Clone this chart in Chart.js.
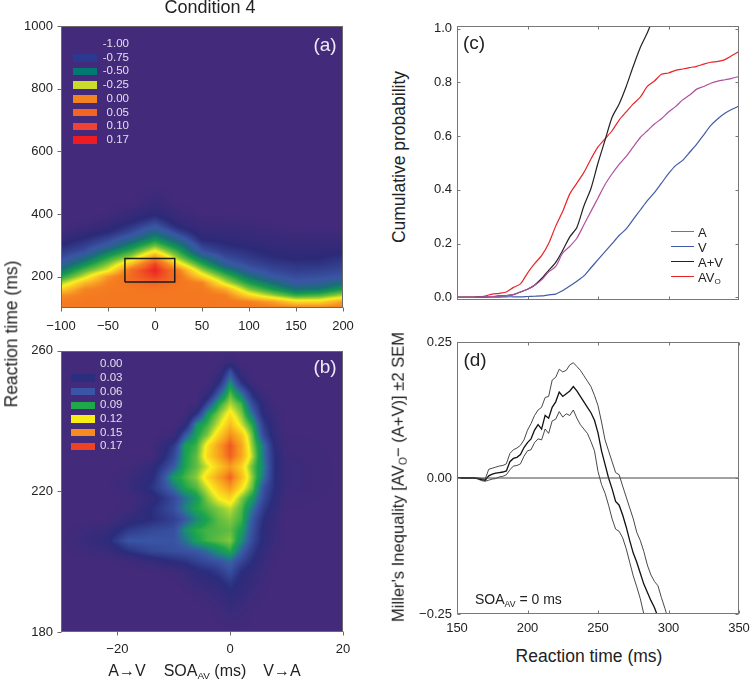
<!DOCTYPE html>
<html>
<head>
<meta charset="utf-8">
<title>Condition 4</title>
<script src="https://cdn.jsdelivr.net/npm/chart.js@4/dist/chart.umd.min.js"></script>
<style>
  html, body { margin: 0; padding: 0; background: #fff; overflow: hidden; }
  #page { position: relative; width: 751px; height: 682px; overflow: hidden; font-family: "Liberation Sans", sans-serif; color: #222; }
  canvas { position: absolute; }
  .t { position: absolute; white-space: nowrap; line-height: 1; }
  .t sub { font-size: 62%; vertical-align: -0.3em; line-height: 0; }
  .sw { position: absolute; }
</style>
</head>
<body>
<div id="page">
  <canvas id="chartA" width="385" height="328" style="left:0;top:10px"></canvas>
  <canvas id="chartB" width="385" height="330" style="left:0;top:335px"></canvas>
  <canvas id="chartC" width="370" height="305" style="left:410px;top:10px"></canvas>
  <canvas id="chartD" width="370" height="315" style="left:410px;top:325px"></canvas>
</div>
<script>
// panel (a): race model violation over SOA and RT
let soa_a = [-100, -75, -50, -25, 0, 25, 50, 75, 100, 125, 150, 175, 200];
let rt_a = [100, 120, 140, 160, 180, 200, 220, 240, 260, 280, 300, 320, 340, 360, 380, 400, 440, 500, 1000];
let grid_a = [
  [0, 0, 0, 0, 0, 0, 0, 0, 0, -.01, -.02, -.02, -.01],
  [-.02, 0, 0, 0, 0, 0, 0, -.005, -.03, -.09, -.2, -.2, -.09],
  [-.06, -.02, 0, 0, 0, 0, 0, -.02, -.2, -.33, -.45, -.42, -.32],
  [-.19, -.04, -.01, 0, .01, 0, -.01, -.11, -.36, -.5, -.62, -.6, -.5],
  [-.33, -.14, -.03, .02, .05, .01, -.03, -.29, -.49, -.62, -.74, -.71, -.63],
  [-.48, -.29, -.07, .04, .12, .02, -.19, -.41, -.61, -.74, -.78, -.77, -.75],
  [-.6, -.41, -.26, .03, .17, -.02, -.33, -.55, -.73, -.79, -.82, -.81, -.79],
  [-.72, -.54, -.36, -.14, .12, -.2, -.47, -.71, -.79, -.83, -.85, -.85, -.82],
  [-.79, -.66, -.47, -.31, -.04, -.35, -.61, -.78, -.83, -.87, -.89, -.88, -.85],
  [-.83, -.77, -.59, -.44, -.23, -.46, -.76, -.83, -.86, -.9, -.91, -.91, -.89],
  [-.88, -.82, -.73, -.56, -.39, -.58, -.82, -.87, -.9, -.92, -.93, -.93, -.92],
  [-.93, -.87, -.8, -.68, -.53, -.69, -.89, -.91, -.92, -.94, -.95, -.95, -.95],
  [-.97, -.92, -.87, -.78, -.64, -.8, -.92, -.93, -.94, -.96, -.97, -.97, -.97],
  [-1, -.96, -.92, -.84, -.74, -.89, -.95, -.95, -.96, -.98, -1, -1, -1],
  [-1, -1, -.95, -.9, -.82, -.93, -.97, -.97, -.98, -1, -1, -1, -1],
  [-1, -1, -.99, -.94, -.89, -.96, -1, -1, -1, -1, -1, -1, -1],
  [-1, -1, -1, -1, -.95, -1, -1, -1, -1, -1, -1, -1, -1],
  [-1, -1, -1, -1, -1, -1, -1, -1, -1, -1, -1, -1, -1],
  [-1, -1, -1, -1, -1, -1, -1, -1, -1, -1, -1, -1, -1]
];
let box_soa = [-32, 21, 21, -32, -32];
let box_rt = [183, 183, 258, 258, 183];
let ticks_ax = [-100, -50, 0, 50, 100, 150, 200];
let ticks_ay = [200, 400, 600, 800, 1000];

// panel (b): close-up around SOA 0
let soa_b = [-30, -22, -18, -14, -10, -8, -6, -4, -2, 0, 2, 4, 6, 8, 10, 20];
let rt_b = [180, 186, 190, 194, 197, 200, 203, 206, 209, 212, 215, 218, 221, 224, 227, 230, 233, 236, 239, 242, 245, 248, 251, 254, 257, 260];
let grid_b = [
  [0, 0, 0, 0, 0, 0, 0, 0, 0, 0, 0, 0, 0, 0, 0, 0],
  [0, 0, 0, 0, 0, 0, 0, 0, .005, .012, .008, .002, 0, 0, 0, 0],
  [0, 0, 0, 0, 0, 0, .003, .008, .013, .025, .018, .008, .002, 0, 0, 0],
  [0, 0, 0, 0, 0, .005, .015, .02, .025, .038, .025, .015, .005, 0, 0, 0],
  [0, 0, 0, 0, .005, .013, .025, .03, .04, .055, .03, .02, .008, 0, 0, 0],
  [0, 0, .005, .017, .03, .035, .045, .052, .058, .066, .048, .03, .014, .002, 0, 0],
  [0, .012, .035, .05, .055, .058, .06, .07, .082, .092, .065, .04, .018, .004, 0, 0],
  [0, .025, .06, .06, .058, .07, .088, .096, .1, .105, .08, .05, .025, .01, 0, 0],
  [0, .015, .04, .05, .055, .08, .092, .096, .098, .1, .088, .055, .025, .012, 0, 0],
  [0, 0, .02, .03, .045, .06, .078, .09, .1, .105, .095, .06, .03, .015, 0, 0],
  [0, 0, .005, .03, .055, .075, .09, .097, .105, .112, .098, .07, .04, .018, .002, 0],
  [0, 0, .002, .02, .052, .07, .085, .105, .12, .128, .105, .085, .05, .025, .004, 0],
  [0, 0, .012, .035, .07, .09, .098, .115, .133, .148, .125, .1, .055, .03, .01, 0],
  [0, 0, .01, .025, .086, .096, .106, .128, .146, .162, .138, .105, .07, .03, .01, 0],
  [0, 0, 0, .02, .062, .09, .1, .115, .132, .148, .13, .1, .075, .03, .01, 0],
  [0, 0, 0, 0, .05, .088, .1, .128, .146, .163, .145, .11, .07, .03, .007, 0],
  [0, 0, 0, 0, .04, .087, .095, .125, .147, .165, .145, .105, .07, .025, .005, 0],
  [0, 0, 0, 0, .008, .06, .088, .105, .13, .152, .135, .1, .05, .018, .002, 0],
  [0, 0, 0, 0, 0, .02, .082, .095, .115, .137, .115, .09, .04, .015, 0, 0],
  [0, 0, 0, 0, 0, .002, .035, .085, .105, .125, .105, .07, .025, .01, 0, 0],
  [0, 0, 0, 0, 0, 0, .002, .05, .09, .11, .095, .05, .02, 0, 0, 0],
  [0, 0, 0, 0, 0, 0, 0, .015, .06, .098, .07, .03, .004, 0, 0, 0],
  [0, 0, 0, 0, 0, 0, 0, .002, .03, .08, .035, .004, 0, 0, 0, 0],
  [0, 0, 0, 0, 0, 0, 0, 0, .01, .055, .01, 0, 0, 0, 0, 0],
  [0, 0, 0, 0, 0, 0, 0, 0, 0, .012, 0, 0, 0, 0, 0, 0],
  [0, 0, 0, 0, 0, 0, 0, 0, 0, 0, 0, 0, 0, 0, 0, 0]
];
let ticks_bx = [-20, 0, 20];
let ticks_by = [180, 220, 260];

// legends of the two maps
let levels_a = ['-1.00', '-0.75', '-0.50', '-0.25', '0.00', '0.05', '0.10', '0.17'];
let swatches_a = ['#44297b', '#2b3990', '#007a70', '#cbdb2a', '#f58220', '#f26522', '#ef4136', '#ed1c24'];
let levels_b = ['0.00', '0.03', '0.06', '0.09', '0.12', '0.15', '0.17'];
let swatches_b = ['#44297b', '#2b2e7e', '#3a55a5', '#1fa84a', '#f7ec13', '#f68b1f', '#ef4123'];

// panel (c): cumulative probability
let rt_c = [150, 155, 160, 165, 170, 175, 180, 185, 190, 195, 200, 205, 210, 215, 220, 225, 230, 235, 240, 245, 250, 255, 260, 265, 270, 275, 280, 285, 290, 295, 300, 305, 310, 315, 320, 325, 330, 335, 340, 345, 350];
let cdf_a = [0, 0, 0, .001, .002, .003, .005, .006, .01, .02, .03, .045, .065, .095, .115, .165, .19, .22, .27, .32, .37, .42, .46, .495, .525, .56, .595, .62, .645, .665, .69, .71, .735, .753, .775, .785, .797, .805, .81, .815, .822];
let cdf_v = [0, 0, 0, 0, 0, .001, .001, .002, .002, .002, .003, .004, .005, .009, .012, .025, .042, .06, .08, .11, .14, .17, .2, .23, .255, .29, .325, .36, .39, .425, .46, .49, .51, .54, .57, .605, .64, .665, .685, .7, .712];
let cdf_sum = [0, 0, 0, .001, .002, .003, .005, .006, .01, .02, .03, .045, .07, .1, .13, .175, .225, .26, .34, .405, .5, .585, .67, .72, .785, .86, .93, .985, 1.05, null, null, null, null, null, null, null, null, null, null, null, null];
let cdf_av = [.001, .001, .001, .002, .005, .012, .015, .02, .037, .05, .09, .125, .155, .2, .265, .32, .385, .425, .465, .515, .56, .59, .62, .66, .69, .72, .745, .785, .805, .83, .835, .845, .85, .855, .86, .868, .875, .878, .885, .9, .915];
let ticks_cx = [200, 250, 300];
let ticks_cy = [0, .2, .4, .6, .8, 1];
let names_c = ['A', 'V', 'A+V', 'AV<sub>O</sub>'];
let colors_c = ['#b0509f', '#3f5ba9', '#222222', '#e8262a'];

// panel (d): Miller's inequality with +-2 SEM
let rt_d = [150, 152.5, 155, 157.5, 160, 162.5, 165, 167.5, 170, 172.5, 175, 177.5, 180, 182.5, 185, 187.5, 190, 192.5, 195, 197.5, 200, 202.5, 205, 207.5, 210, 212.5, 215, 217.5, 220, 222.5, 225, 227.5, 230, 232.5, 235, 237.5, 240, 242.5, 245, 247.5, 250, 252.5, 255, 257.5, 260, 262.5, 265, 267.5, 270, 272.5, 275, 277.5, 280, 282.5, 285, 287.5, 290, 292.5, 295, 297.5, 300];
let miller_mean = [0, 0, 0, 0, 0, 0, -.001, -.003, -.004, .004, .007, .009, .01, .011, .013, .03, .036, .038, .043, .056, .065, .072, .088, .098, .09, .115, .11, .13, .14, .158, .15, .155, .16, .168, .16, .15, .14, .13, .12, .106, .083, .05, .025, 0, -.02, -.043, -.05, -.068, -.09, -.115, -.138, -.155, -.175, -.195, -.21, -.225, -.238, -.255, -.27, -.29, -.31];
let miller_upper = [0, 0, 0, 0, 0, 0, 0, -.001, -.002, .016, .018, .02, .022, .023, .026, .045, .052, .055, .06, .07, .088, .1, .115, .125, .13, .148, .15, .18, .185, .2, .195, .198, .208, .212, .205, .198, .188, .178, .168, .152, .133, .103, .07, .05, .03, .01, .006, -.015, -.035, -.055, -.075, -.1, -.115, -.135, -.16, -.178, -.19, -.198, -.22, -.24, -.262];
let miller_lower = [0, 0, 0, 0, 0, 0, -.002, -.005, -.006, -.004, -.002, -.001, .002, .003, .006, .015, .022, .023, .026, .04, .05, .052, .065, .072, .07, .09, .082, .105, .108, .122, .112, .118, .115, .125, .11, .098, .09, .082, .067, .05, .012, -.012, -.028, -.05, -.075, -.094, -.098, -.11, -.13, -.155, -.18, -.2, -.222, -.25, -.27, -.29, -.31, -.33, -.35, -.37, -.39];
let zero_x = [150, 350];
let zero_y = [0, 0];
let ticks_dx = [150, 200, 250, 300, 350];
let ticks_dy = [-.25, 0, .25];

// value -> rgb stops for the two maps
let stops_a = [[-1, 68, 42, 122], [-.88, 43, 42, 120], [-.75, 58, 85, 165], [-.62, 25, 110, 120], [-.5, 20, 155, 75], [-.38, 110, 190, 60], [-.25, 250, 240, 30], [-.12, 250, 175, 40], [-.03, 245, 128, 32], [0, 244, 120, 32], [.05, 242, 101, 34], [.1, 239, 75, 35], [.17, 237, 35, 36]];
let stops_b = [[0, 68, 42, 122], [.03, 43, 44, 124], [.06, 58, 85, 165], [.075, 30, 130, 130], [.09, 27, 165, 75], [.105, 130, 200, 60], [.12, 250, 240, 30], [.15, 247, 148, 30], [.17, 239, 65, 35]];

function color_at(stops, v) {
  if (v <= stops[0][0]) return stops[0];
  for (let i = 1; i < stops.length; ++i) {
    if (v <= stops[i][0]) {
      let a = stops[i - 1], b = stops[i];
      let f = (v - a[0]) / (b[0] - a[0]);
      return [0, a[1] + (b[1] - a[1]) * f, a[2] + (b[2] - a[2]) * f, a[3] + (b[3] - a[3]) * f];
    }
  }
  return stops[stops.length - 1];
}

function locate(arr, v) {
  let i = 0;
  while (i < arr.length - 2 && v > arr[i + 1]) i++;
  let f = (v - arr[i]) / (arr[i + 1] - arr[i]);
  return [i, Math.max(0, Math.min(1, f))];
}

// the map itself, shaded pixel by pixel through the chart's scales
let heatmap = {
  id: 'heatmap',
  beforeDatasetsDraw(chart, args, opts) {
    if (!opts.grid) return;
    let area = chart.chartArea;
    let left = Math.round(area.left), top = Math.round(area.top);
    let w = Math.round(area.right) - left, h = Math.round(area.bottom) - top;
    let img = chart.ctx.createImageData(w, h);
    let sx = chart.scales.x, sy = chart.scales.y;
    for (let py = 0; py < h; ++py) {
      let [r, fr] = locate(opts.ys, sy.getValueForPixel(top + py + 0.5));
      for (let px = 0; px < w; ++px) {
        let [c, fc] = locate(opts.xs, sx.getValueForPixel(left + px + 0.5));
        let g = opts.grid;
        let v = g[r][c] * (1 - fr) * (1 - fc) + g[r][c + 1] * (1 - fr) * fc + g[r + 1][c] * fr * (1 - fc) + g[r + 1][c + 1] * fr * fc;
        let rgb = color_at(opts.stops, v);
        let k = (py * w + px) * 4;
        img.data[k] = rgb[1];
        img.data[k + 1] = rgb[2];
        img.data[k + 2] = rgb[3];
        img.data[k + 3] = 255;
      }
    }
    chart.ctx.putImageData(img, left, top);
  }
};

// frame and tick marks, outward on the maps, inward on the line panels
let frame = {
  id: 'frame',
  afterDraw(chart, args, opts) {
    let ctx = chart.ctx, a = chart.chartArea;
    let l = Math.round(a.left) + 0.5, r = Math.round(a.right) - 0.5, t = Math.round(a.top) + 0.5, b = Math.round(a.bottom) - 0.5;
    ctx.save();
    ctx.strokeStyle = opts.color;
    ctx.lineWidth = 1;
    ctx.strokeRect(l, t, r - l, b - t);
    ctx.beginPath();
    chart.scales.x.ticks.forEach(tk => {
      let x = Math.round(chart.scales.x.getPixelForValue(tk.value)) + 0.5;
      if (opts.inward) {
        ctx.moveTo(x, t); ctx.lineTo(x, t + 3);
        ctx.moveTo(x, b); ctx.lineTo(x, b - 3);
      } else {
        ctx.moveTo(x, b); ctx.lineTo(x, b + 4);
      }
    });
    chart.scales.y.ticks.forEach(tk => {
      let y = Math.round(chart.scales.y.getPixelForValue(tk.value)) + 0.5;
      if (opts.inward) {
        ctx.moveTo(l, y); ctx.lineTo(l + 3, y);
        ctx.moveTo(r, y); ctx.lineTo(r - 3, y);
      } else {
        ctx.moveTo(l, y); ctx.lineTo(l - 4, y);
      }
    });
    ctx.stroke();
    ctx.restore();
  }
};

function pairs(xs, ys) {
  return xs.map((x, i) => ({x: x, y: ys[i]}));
}

function minus(v, digits) {
  return v.toFixed(digits).replace('-', '\u2212');
}

// fixed plot rectangle: axis widths and paddings are pinned to it
function panel(id, box, xr, yr, xt, yt, fmt_x, fmt_y, show_x, pad_x, pad_y, datasets, plugin_opts) {
  let el = document.getElementById(id);
  let cl = parseInt(el.style.left) || 0, ct = parseInt(el.style.top) || 0;
  let [pl, pt, pr, pb] = box;
  return new Chart(el, {
    type: 'scatter',
    data: {datasets: datasets},
    plugins: [heatmap, frame],
    options: {
      responsive: false,
      animation: false,
      events: [],
      layout: {padding: {left: 0, top: pt - ct, right: cl + el.width - pr, bottom: 0}},
      scales: {
        x: {
          type: 'linear', min: xr[0], max: xr[1],
          grid: {display: false, drawTicks: false},
          border: {display: false},
          afterBuildTicks: s => { s.ticks = xt.map(v => ({value: v})); },
          afterFit: s => { s.height = ct + el.height - pb; },
          ticks: {
            display: show_x, autoSkip: false, maxRotation: 0, padding: pad_x, color: '#222',
            font: {family: 'Liberation Sans', size: 13},
            callback: fmt_x
          }
        },
        y: {
          type: 'linear', min: yr[0], max: yr[1],
          grid: {display: false, drawTicks: false},
          border: {display: false},
          afterBuildTicks: s => { s.ticks = yt.map(v => ({value: v})); },
          afterFit: s => { s.width = pl - cl; },
          ticks: {
            autoSkip: false, padding: pad_y, color: '#222',
            font: {family: 'Liberation Sans', size: 13},
            callback: fmt_y
          }
        }
      },
      plugins: Object.assign({legend: {display: false}, tooltip: {enabled: false}}, plugin_opts)
    }
  });
}

function line_set(label, xs, ys, color, width, tension) {
  return {label: label, data: pairs(xs, ys), showLine: true, borderColor: color, borderWidth: width, pointRadius: 0, tension: tension || 0, spanGaps: false};
}

panel('chartA', [61, 26, 343, 308], [-100, 200], [100, 1000], ticks_ax, ticks_ay,
  v => minus(v, 0), v => minus(v, 0), true, 11, 8,
  [line_set('Window', box_soa, box_rt, '#1a1a1a', 1.5)],
  {heatmap: {grid: grid_a, xs: soa_a, ys: rt_a, stops: stops_a}, frame: {color: '#6a6a6a', inward: false}});

panel('chartB', [61, 349, 343, 632], [-30, 20], [180, 260], ticks_bx, ticks_by,
  v => minus(v, 0), v => minus(v, 0), true, 10, 8,
  [{label: 'Map', data: [], pointRadius: 0}],
  {heatmap: {grid: grid_b, xs: soa_b, ys: rt_b, stops: stops_b}, frame: {color: '#6a6a6a', inward: false}});

panel('chartC', [457, 26, 739, 300], [150, 350], [-.01, 1.01], ticks_cx, ticks_cy,
  v => minus(v, 0), v => minus(v, 1), false, 6, 5,
  [
    line_set('A', rt_c, cdf_a, colors_c[0], 1.2, .25),
    line_set('V', rt_c, cdf_v, colors_c[1], 1.2, .25),
    line_set('A+V', rt_c, cdf_sum, colors_c[2], 1.2, .25),
    line_set('AVo', rt_c, cdf_av, colors_c[3], 1.2, .25)
  ],
  {frame: {color: '#777', inward: true}});

panel('chartD', [457, 342, 739, 614], [150, 350], [-.25, .25], ticks_dx, ticks_dy,
  v => minus(v, 0), v => minus(v, 2), true, 7, 5,
  [
    line_set('Zero', zero_x, zero_y, '#444', 1),
    line_set('+2 SEM', rt_d, miller_upper, '#333', 0.9),
    line_set('Mean', rt_d, miller_mean, '#111', 1.3),
    line_set('-2 SEM', rt_d, miller_lower, '#333', 0.9)
  ],
  {frame: {color: '#777', inward: true}});

// overlay text
let page = document.getElementById('page');

function text(html, x, y, size, opts) {
  opts = opts || {};
  let el = document.createElement('div');
  el.className = 't';
  el.innerHTML = html;
  el.style.left = x + 'px';
  el.style.top = y + 'px';
  el.style.fontSize = size + 'px';
  if (opts.color) el.style.color = opts.color;
  let ax = opts.align == 'left' ? '0' : opts.align == 'right' ? '-100%' : '-50%';
  el.style.transform = 'translate(' + ax + ',-50%)' + (opts.rotate ? ' rotate(-90deg)' : '');
  page.appendChild(el);
}

function swatch(x, y, w, h, color) {
  let el = document.createElement('div');
  el.className = 'sw';
  el.style.cssText = 'left:' + x + 'px;top:' + y + 'px;width:' + w + 'px;height:' + h + 'px;background:' + color;
  page.appendChild(el);
}

text('Condition 4', 210, 7, 18);
text('(a)', 325, 44, 19, {color: '#efeaf5'});
text('(b)', 325, 366, 19, {color: '#efeaf5'});
text('(c)', 474, 42, 19);
text('(d)', 475, 359, 19);
text('Reaction time (ms)', 12, 334, 17.5, {rotate: true});
text('Cumulative probability', 400, 157, 17.5, {rotate: true});
text('Miller\'s Inequality [AV<sub>O</sub>\u2212 (A+V)] \u00b12 SEM', 399, 476.5, 16.6, {rotate: true});
text('Reaction time (ms)', 589, 657, 17.5);
text('A\u2192V', 127, 671, 16);
text('SOA<sub>AV</sub> (ms)', 205, 671, 16);
text('V\u2192A', 282, 671, 16);
text('SOA<sub>AV</sub> = 0 ms', 475, 599, 14, {align: 'left'});

levels_a.forEach((s, i) => {
  let y = 44 + i * 13.7;
  if (i > 0) swatch(73, y - 3.7, 24, 7.5, swatches_a[i]);
  text(s, 129, y, 11.5, {align: 'right', color: '#e4deee'});
});
levels_b.forEach((s, i) => {
  let y = 364.3 + i * 13.65;
  if (i > 0) swatch(71, y - 3.7, 23.5, 7.5, swatches_b[i]);
  text(s, 122.5, y, 11.5, {align: 'right', color: '#e4deee'});
});
names_c.forEach((s, i) => {
  let y = 231.7 + i * 15;
  swatch(671, y - 0.5, 22.5, 1, colors_c[i]);
  text(s, 698, y, 13, {align: 'left'});
});
</script>
</body>
</html>
